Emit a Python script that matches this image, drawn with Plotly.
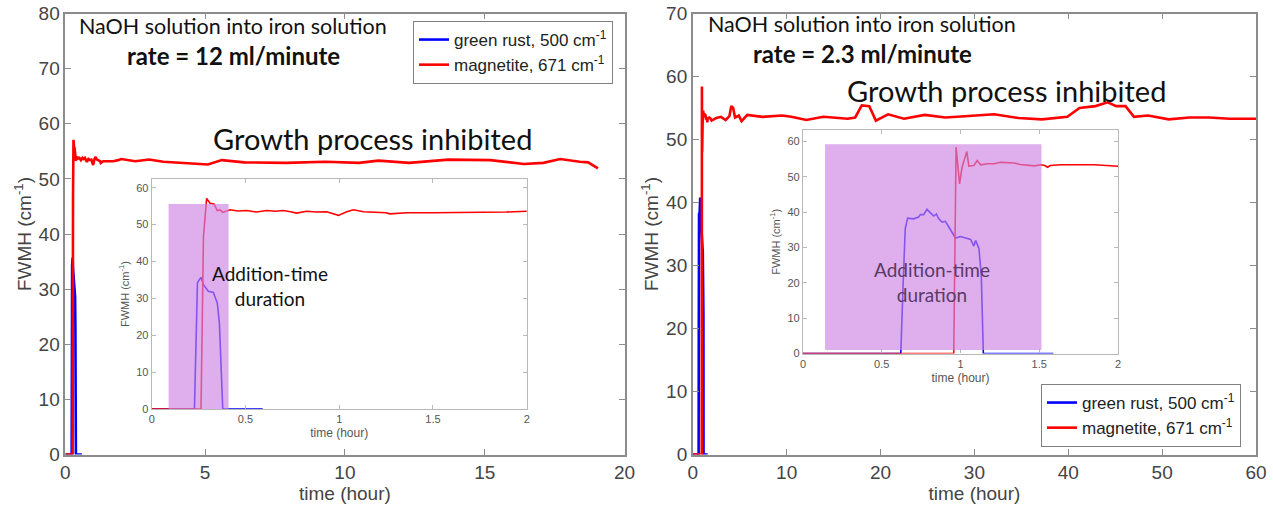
import plotly.graph_objects as go

W, H = 1273, 513

# ---------------- data : 12 ml/minute ----------------
gr12_t = [0, 0.228, 0.244, 0.263, 0.276, 0.302, 0.329, 0.35, 0.361, 0.379, 0.592]
gr12_v = [0, 0, 34.3, 35.7, 33.7, 31.9, 31.6, 28.7, 23.3, 0, 0]

mag12_t = [0, 0.263, 0.276, 0.293, 0.311, 0.332, 0.35, 0.365, 0.379, 0.418, 0.46, 0.507,
           0.56, 0.613, 0.66, 0.702, 0.74, 0.773, 0.827, 0.88, 0.933, 0.996, 1.04, 1.076,
           1.13, 1.18, 1.25, 1.27, 1.36, 1.5, 1.716, 1.89, 2.0,
           2.5, 3.0, 3.5, 4.3, 5.1, 5.6, 6.4, 7.9, 9.3, 10.5, 11.2, 12.3, 13.7, 15.2,
           16.4, 17.1, 17.7, 18.4, 18.7, 19.05]
mag12_v = [0, 0, 46.7, 57.1, 55.8, 55.6, 53.8, 54.0, 53.3, 54.0, 53.7, 53.8,
           53.4, 53.8, 53.6, 53.8, 53.5, 53.1, 53.6, 53.4, 53.5, 52.5, 53.5, 54.0,
           53.5, 53.4, 53.2, 52.9, 53.2, 53.2, 53.2, 53.4, 53.6,
           53.2, 53.5, 53.1, 52.9, 52.6, 53.4, 53.0, 52.9, 53.1, 52.9, 53.3, 52.9, 53.5, 53.4,
           52.7, 52.9, 53.6, 53.1, 53.0, 51.9]

# ---------------- data : 2.3 ml/minute ----------------
gr23_t = [0, 0.621, 0.634, 0.649, 0.664, 0.702, 0.734, 0.745, 0.766, 0.787, 0.809, 0.83,
          0.847, 0.862, 0.883, 0.904, 0.926, 0.947, 0.968, 1.0, 1.043, 1.064, 1.085,
          1.096, 1.117, 1.132, 1.145, 1.59]
gr23_v = [0, 0, 17.4, 35.3, 38.3, 38.1, 38.6, 39.3, 39.3, 40.8, 39.8, 38.9,
          39.5, 38.1, 37.2, 37.4, 35.8, 34.4, 32.7, 33.1, 32.5, 32.3, 30.4,
          32.0, 29.7, 22.1, 0, 0]

mag23_t = [0, 0.957, 0.972, 0.994, 1.01, 1.04, 1.053, 1.085, 1.106, 1.128, 1.17, 1.213,
           1.255, 1.3, 1.34, 1.38, 1.426, 1.468, 1.51, 1.535, 1.553, 1.57, 1.638, 1.75,
           1.851, 2.0,
           2.5, 3.0, 3.5, 3.9, 4.1, 4.3, 4.5, 4.9, 5.2, 5.8, 7.4, 9.5, 10.5, 12.1, 13.9,
           16.5, 17.3, 18.0, 18.8, 19.5, 20.8, 22.5, 24.7, 26.9, 29.0, 32.1, 34.7, 37.2,
           39.9, 41.2, 42.9, 44.2, 45.1, 46.1, 47.0, 48.5, 50.7, 52.9, 55.0, 57.2, 60.0]
mag23_v = [0, 0, 58.4, 48.0, 52.7, 57.2, 53.0, 53.2, 54.6, 53.4, 53.7, 53.7,
           54.1, 53.9, 53.9, 53.5, 53.2, 53.1, 53.4, 53.2, 52.7, 53.2, 53.4, 53.5,
           53.4, 53.0,
           53.4, 53.6, 53.1, 53.7, 55.3, 55.0, 53.5, 53.8, 52.9, 53.9, 53.6, 53.8, 53.6, 53.1, 53.6,
           53.3, 53.5, 55.4, 55.3, 53.0, 54.0, 53.3, 53.9, 53.5, 53.7, 54.0, 53.4, 53.2,
           53.6, 55.0, 55.3, 55.9, 55.3, 55.3, 53.6, 53.8, 53.2, 53.5, 53.5, 53.3, 53.3]

# addition-time windows (hour) and heights
add12 = [0.09, 0.41, 0, 55.6]
add23 = [0.14, 1.514, 1, 59.2]

BLUE, RED = "#0000ff", "#ff0000"
names = ["green rust, 500 cm<sup>-1</sup>", "magnetite, 671 cm<sup>-1</sup>"]

fig = go.Figure()
# main left
fig.add_trace(go.Scatter(x=gr12_t, y=gr12_v, mode="lines", line=dict(color=BLUE, width=2.6),
                         name=names[0], xaxis="x", yaxis="y", legend="legend"))
fig.add_trace(go.Scatter(x=mag12_t, y=mag12_v, mode="lines", line=dict(color=RED, width=2.6),
                         name=names[1], xaxis="x", yaxis="y", legend="legend"))
# main right
fig.add_trace(go.Scatter(x=gr23_t, y=gr23_v, mode="lines", line=dict(color=BLUE, width=2.6),
                         name=names[0], xaxis="x2", yaxis="y2", legend="legend2"))
fig.add_trace(go.Scatter(x=mag23_t, y=mag23_v, mode="lines", line=dict(color=RED, width=2.6),
                         name=names[1], xaxis="x2", yaxis="y2", legend="legend2"))
# insets
fig.add_trace(go.Scatter(x=gr12_t, y=gr12_v, mode="lines", line=dict(color=BLUE, width=1.6),
                         showlegend=False, xaxis="x3", yaxis="y3"))
fig.add_trace(go.Scatter(x=mag12_t, y=mag12_v, mode="lines", line=dict(color=RED, width=1.6),
                         showlegend=False, xaxis="x3", yaxis="y3"))
fig.add_trace(go.Scatter(x=gr23_t, y=gr23_v, mode="lines", line=dict(color=BLUE, width=1.6),
                         showlegend=False, xaxis="x4", yaxis="y4"))
fig.add_trace(go.Scatter(x=mag23_t, y=mag23_v, mode="lines", line=dict(color=RED, width=1.6),
                         showlegend=False, xaxis="x4", yaxis="y4"))

def px(x):
    return x / W

def py(y):
    return (H - y) / H

AX = "#8c8c8c"
main_font = dict(family="Liberation Sans, Arial", size=19, color="#444444")
title_font = dict(family="Liberation Sans, Arial", size=19, color="#444444")
main_common = dict(showline=True, linecolor=AX, linewidth=1.5, mirror="allticks",
                   ticks="inside", ticklen=6, tickcolor=AX, tickwidth=1, automargin=False,
                   showgrid=False, zeroline=False, tickfont=main_font)
ins_AX = "#b8b8b8"
ins_font = dict(family="Liberation Sans, Arial", size=11, color="#555555")
ins_common = dict(showline=True, linecolor=ins_AX, linewidth=1.2, mirror="allticks",
                  ticks="inside", ticklen=4, tickcolor=ins_AX, tickwidth=1, automargin=False,
                  showgrid=False, zeroline=False, tickfont=ins_font)

ydom_main = [py(454.5), py(13.5)]
ins_title_x = dict(family="Liberation Sans, Arial", size=12, color="#555555")
ins_title_y = dict(family="Liberation Sans, Arial", size=11, color="#555555")

fig.update_layout(
    width=W, height=H,
    margin=dict(l=0, r=0, t=0, b=0),
    paper_bgcolor="white", plot_bgcolor="white",
    xaxis=dict(domain=[px(65.3), px(624.5)], range=[0, 20], tickvals=[0, 5, 10, 15, 20],
               anchor="y", title=dict(text="time (hour)", font=title_font, standoff=5),
               **main_common),
    yaxis=dict(domain=ydom_main, range=[0, 80], tickvals=list(range(0, 81, 10)), anchor="x",
               title=dict(text="FWMH (cm<sup>-1</sup>)", font=title_font, standoff=2),
               **main_common),
    xaxis2=dict(domain=[px(692.8), px(1256)], range=[0, 60], tickvals=list(range(0, 61, 10)),
                anchor="y2", title=dict(text="time (hour)", font=title_font, standoff=5),
                **main_common),
    yaxis2=dict(domain=ydom_main, range=[0, 70], tickvals=list(range(0, 71, 10)), anchor="x2",
                title=dict(text="FWMH (cm<sup>-1</sup>)", font=title_font, standoff=2),
                **main_common),
    xaxis3=dict(domain=[px(151.7), px(526.7)], range=[0, 2], tickvals=[0, 0.5, 1, 1.5, 2],
                ticktext=["0", "0.5", "1", "1.5", "2"], anchor="y3",
                title=dict(text="time (hour)", font=ins_title_x, standoff=4),
                **ins_common),
    yaxis3=dict(domain=[py(409), py(179)], range=[0, 62.36], tickvals=list(range(0, 61, 10)),
                anchor="x3",
                title=dict(text="FWMH (cm<sup>-1</sup>)", font=ins_title_y, standoff=4),
                **ins_common),
    xaxis4=dict(domain=[px(803), px(1118)], range=[0, 2], tickvals=[0, 0.5, 1, 1.5, 2],
                ticktext=["0", "0.5", "1", "1.5", "2"], anchor="y4",
                title=dict(text="time (hour)", font=ins_title_x, standoff=4),
                **ins_common),
    yaxis4=dict(domain=[py(353.5), py(130)], range=[0, 63.25], tickvals=list(range(0, 61, 10)),
                anchor="x4",
                title=dict(text="FWMH (cm<sup>-1</sup>)", font=ins_title_y, standoff=4),
                **ins_common),
    legend=dict(x=px(613), y=py(21), xanchor="right", yanchor="top", bgcolor="white",
                bordercolor="#808080", borderwidth=1, tracegroupgap=0,
                font=dict(family="Liberation Sans, Arial", size=17, color="#222222")),
    legend2=dict(x=px(1241), y=py(384), xanchor="right", yanchor="top", bgcolor="white",
                 bordercolor="#808080", borderwidth=1, tracegroupgap=0,
                 font=dict(family="Liberation Sans, Arial", size=17, color="#222222")),
)

rect_fill = "rgba(205,130,228,0.65)"
fig.add_shape(type="rect", xref="x3", yref="y3", x0=add12[0], x1=add12[1], y0=add12[2], y1=add12[3],
              fillcolor=rect_fill, line=dict(width=0), layer="above")
fig.add_shape(type="rect", xref="x4", yref="y4", x0=add23[0], x1=add23[1], y0=add23[2], y1=add23[3],
              fillcolor=rect_fill, line=dict(width=0), layer="above")

CAL = "Lato, Open Sans, sans-serif"
def note(text, x, y, size, color="#111111", bold=False):
    fig.add_annotation(text=f"<b>{text}</b>" if bold else text, xref="paper", yref="paper",
                       x=px(x), y=py(y), xanchor="center", yanchor="middle", showarrow=False,
                       font=dict(family=CAL, size=size, color=color))

note("NaOH solution into iron solution", 233, 26, 21.5)
note("rate = 12 ml/minute", 233, 55, 24, bold=True)
note("Growth process inhibited", 372, 138, 29)
note("Addition-time<br>duration", 270, 286, 19)

note("NaOH solution into iron solution", 862, 24, 21.5)
note("rate = 2.3 ml/minute", 862, 53, 24, bold=True)
note("Growth process inhibited", 1006, 90, 29)
note("Addition-time<br>duration", 932, 282, 19, color="#5a3a66")

fig.write_html("out.html", config={"displayModeBar": False},
               post_script="document.body.style.margin='0';document.body.style.padding='0';")
